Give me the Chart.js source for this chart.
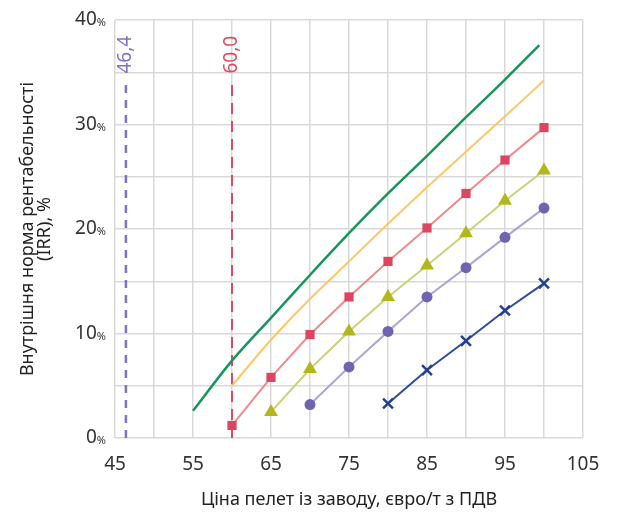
<!DOCTYPE html>
<html>
<head>
<meta charset="utf-8">
<script src="https://cdn.jsdelivr.net/npm/chart.js@4"></script>
<style>
  html, body { margin: 0; padding: 0; background: #fff; }
  #wrap { width: 619px; height: 529px; }
</style>
</head>
<body>
<div id="wrap"><canvas id="irrChart" width="619" height="529"></canvas></div>
<script>
Chart.defaults.font.family = 'Noto Sans';
Chart.defaults.color = '#333';

// prices, euro/t
var greenX = [55, 60, 65, 70, 75, 80, 85, 90, 95, 99.4];
var greenY = [2.6, 7.4, 11.5, 15.6, 19.6, 23.4, 27.0, 30.7, 34.3, 37.6];
var orangeX = [60, 65, 70, 75, 80, 85, 90, 95, 100];
var orangeY = [5.0, 9.4, 13.3, 16.9, 20.5, 24.0, 27.4, 30.8, 34.2];
var squareX = [60, 65, 70, 75, 80, 85, 90, 95, 100];
var squareY = [1.2, 5.8, 9.9, 13.5, 16.9, 20.1, 23.4, 26.6, 29.7];
var triangleX = [65, 70, 75, 80, 85, 90, 95, 100];
var triangleY = [2.5, 6.6, 10.2, 13.5, 16.5, 19.6, 22.7, 25.6];
var circleX = [70, 75, 80, 85, 90, 95, 100];
var circleY = [3.2, 6.8, 10.2, 13.5, 16.3, 19.2, 22.0];
var crossX = [80, 85, 90, 95, 100];
var crossY = [3.3, 6.5, 9.3, 12.2, 14.8];
// break-even prices
var markers = [46.4, 60.0];
var markerLabels = ['46,4', '60,0'];
var markerTop = 34.3;

function pts(xs, ys) {
    return xs.map(function (x, i) { return { x: x, y: ys[i] }; });
}

// small "%" after y tick numbers, rotated labels for break-even lines
var extras = {
    id: 'extras',
    afterDraw: function (chart) {
        var c = chart.ctx;
        var xs = chart.scales.x, ys = chart.scales.y;
        c.save();
        for (var v = 0; v <= 40; v += 10) {
            var py = ys.getPixelForValue(v);
            c.fillStyle = '#333';
            c.textBaseline = 'middle';
            c.textAlign = 'right';
            c.font = '11px "Noto Sans"';
            var pw = c.measureText('%').width;
            c.fillText('%', 106, py + 3);
            c.font = '19px "Noto Sans"';
            c.fillText(String(v), 106 - pw, py);
        }
        var cols = ['#7d72c6', '#e0485f'];
        markers.forEach(function (m, i) {
            var px = xs.getPixelForValue(m);
            c.save();
            c.translate(px, ys.getPixelForValue(markerTop) - 6);
            c.rotate(-Math.PI / 2);
            c.fillStyle = cols[i];
            c.font = '19px "Noto Sans"';
            c.textAlign = 'left';
            c.textBaseline = 'middle';
            c.fillText(markerLabels[i], 0, 0);
            c.restore();
        });
        c.restore();
    }
};

var ctx = document.getElementById('irrChart');
var myChart = new Chart(ctx, {
    type: 'line',
    plugins: [extras],
    data: {
        datasets: [
            {
                data: pts(greenX, greenY),
                borderColor: '#17955c',
                borderWidth: 2.5,
                pointRadius: 0,
                tension: 0.3,
            },
            {
                data: pts(orangeX, orangeY),
                borderColor: '#fcc866',
                borderWidth: 2,
                pointRadius: 0,
                tension: 0.3,
            },
            {
                data: pts(squareX, squareY),
                borderColor: '#ee8a8c',
                borderWidth: 2,
                pointStyle: 'rect',
                pointRadius: 6.5,
                pointBackgroundColor: '#dc4660',
                pointBorderColor: '#dc4660',
                pointBorderWidth: 0,
            },
            {
                data: pts(triangleX, triangleY),
                borderColor: '#c9d27a',
                borderWidth: 2,
                pointStyle: 'triangle',
                pointRadius: 8,
                pointBackgroundColor: '#b2b81a',
                pointBorderColor: '#b2b81a',
                pointBorderWidth: 0,
            },
            {
                data: pts(circleX, circleY),
                borderColor: '#aaa5d8',
                borderWidth: 2,
                pointStyle: 'circle',
                pointRadius: 5.5,
                pointBackgroundColor: '#6e64b0',
                pointBorderColor: '#6e64b0',
                pointBorderWidth: 0,
            },
            {
                data: pts(crossX, crossY),
                borderColor: '#2e4c9c',
                borderWidth: 2,
                pointStyle: 'crossRot',
                pointRadius: 7,
                pointBorderColor: '#23418f',
                pointBorderWidth: 2.5,
            },
            {
                data: [{ x: markers[0], y: 0 }, { x: markers[0], y: markerTop }],
                borderColor: '#7d72c6',
                borderWidth: 2.5,
                borderDash: [8, 7],
                pointRadius: 0,
            },
            {
                data: [{ x: markers[1], y: 0 }, { x: markers[1], y: markerTop }],
                borderColor: '#e0485f',
                borderWidth: 2,
                borderDash: [11, 7],
                pointRadius: 0,
            },
        ]
    },
    options: {
        responsive: false,
        animation: false,
        layout: {
            padding: { left: 19, top: 20, right: 36, bottom: 20 },
        },
        plugins: {
            legend: { display: false },
            tooltip: { enabled: false },
        },
        scales: {
            x: {
                type: 'linear',
                min: 45,
                max: 105,
                afterBuildTicks: function (scale) {
                    scale.ticks = [];
                    for (var v = 45; v <= 105; v += 5) scale.ticks.push({ value: v });
                },
                ticks: {
                    autoSkip: false,
                    maxRotation: 0,
                    padding: 17,
                    color: '#333',
                    font: { size: 19, lineHeight: 1.0 },
                    callback: function (v) { return (v - 45) % 10 === 0 ? String(v) : ''; },
                },
                grid: {
                    color: '#d9d9d9',
                    lineWidth: 1.5,
                    drawTicks: false,
                },
                border: { display: false },
                title: {
                    display: true,
                    text: 'Ціна пелет із заводу, євро/т з ПДВ',
                    color: '#222',
                    font: { size: 18, lineHeight: 1.0 },
                    padding: { top: 0, bottom: 0 },
                },
            },
            y: {
                min: 0,
                max: 40,
                afterFit: function (scale) { scale.width = 96; },
                ticks: {
                    stepSize: 5,
                    color: 'rgba(0,0,0,0)',
                    font: { size: 18 },
                    callback: function (v) { return v % 10 === 0 ? v + '%' : ''; },
                },
                grid: {
                    color: '#d9d9d9',
                    lineWidth: 1.5,
                    drawTicks: false,
                },
                border: { display: false },
                title: {
                    display: true,
                    text: ['Внутрішня норма рентабельності', '(IRR), %'],
                    color: '#222',
                    font: { size: 18, lineHeight: 0.95 },
                    padding: { top: 0, bottom: 0 },
                },
            },
        },
    },
});
</script>
</body>
</html>
